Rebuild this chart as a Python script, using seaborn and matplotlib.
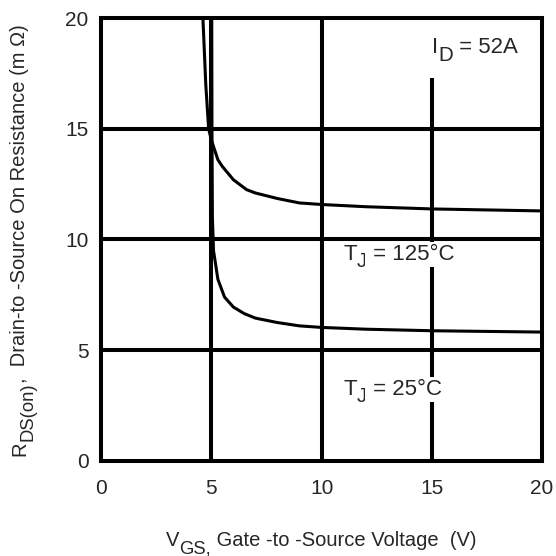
import matplotlib
matplotlib.use("Agg")
import matplotlib.pyplot as plt
import seaborn as sns
import pandas as pd
from matplotlib.transforms import IdentityTransform

# V_GS (V) vs R_DS(on) (mOhm)
vgs_125 = [4.62, 4.75, 4.88, 5.0, 5.1, 5.3, 5.5, 6.0, 6.6, 7.0, 8.0, 9.0, 10.0, 12.0, 15.0, 20.0]
rds_125 = [20.0, 17.0, 15.0, 14.5, 14.2, 13.6, 13.3, 12.7, 12.25, 12.1, 11.85, 11.65, 11.58, 11.48, 11.38, 11.29]
vgs_25 = [5.02, 5.03, 5.05, 5.1, 5.3, 5.6, 6.0, 6.5, 7.0, 8.0, 9.0, 10.0, 12.0, 15.0, 20.0]
rds_25 = [20.0, 15.0, 11.0, 9.5, 8.2, 7.4, 6.95, 6.65, 6.45, 6.25, 6.1, 6.03, 5.95, 5.88, 5.82]

ticks = [0, 5, 10, 15, 20]

df = pd.concat([
    pd.DataFrame({"vgs": vgs_125, "rds": rds_125, "tj": "125"}),
    pd.DataFrame({"vgs": vgs_25, "rds": rds_25, "tj": "25"}),
])

sns.set_style("white")
plt.rcParams["font.family"] = ["Liberation Sans", "DejaVu Sans"]

fig = plt.figure(figsize=(5.56, 5.56), dpi=100)
ax = fig.add_axes([0.1817, 0.1709, 0.7933, 0.7967])
rend = fig.canvas.get_renderer()


# text with same-size subscripts, laid out piece by piece in pixel coords
def rich_text(px, py, parts, size, rotation=0, drop=7, center=False, bbox=None):
    widths = []
    for s, sub in parts:
        t = fig.text(0, 0, s, fontsize=size * (0.92 if sub else 1))
        widths.append(t.get_window_extent(rend).width)
        t.remove()
    pos = -sum(widths) / 2 if center else 0
    for (s, sub), w in zip(parts, widths):
        across = -drop if sub else 0
        if rotation == 90:
            dx, dy = -across, pos
        else:
            dx, dy = pos, across
        fig.text(px + dx, py + dy, s, transform=IdentityTransform(),
                 fontsize=size * (0.92 if sub else 1), ha="left", va="baseline",
                 rotation=rotation, rotation_mode="anchor", bbox=bbox, zorder=5)
        pos += w


# grid lines
lw_grid = 2.9
for v in [5, 10]:
    ax.axvline(v, color="black", lw=lw_grid, zorder=1)
ax.vlines(15, 0, 17.3, color="black", lw=lw_grid, zorder=1)
for v in [5, 10, 15]:
    ax.axhline(v, color="black", lw=lw_grid, zorder=1)

sns.lineplot(data=df, x="vgs", y="rds", units="tj", estimator=None, sort=False,
             color="black", lw=2.2, ax=ax, zorder=2)

ax.set_xlim(0, 20)
ax.set_ylim(0, 20)
ax.set_xticks(ticks)
ax.set_yticks(ticks)
ax.set_xlabel("")
ax.set_ylabel("")
ax.tick_params(axis="x", labelsize=15, length=0, pad=13)
ax.tick_params(axis="y", labelsize=15, length=0, pad=9)
for s in ax.spines.values():
    s.set_linewidth(lw_grid)
    s.set_color("black")
    s.set_zorder(3)

box = dict(facecolor="white", edgecolor="none", pad=1.5)
rich_text(343, 296, [("T", 0), ("J", 1), (" = 125°C", 0)], 16, bbox=box)
rich_text(343, 161, [("T", 0), ("J", 1), (" = 25°C", 0)], 16, bbox=box)
rich_text(432, 503, [("I", 0), ("D", 1), (" = 52A", 0)], 16, drop=8)

rich_text(321, 10, [("V", 0), ("GS,", 1), (" Gate -to -Source Voltage  (V)", 0)], 14.5, center=True)
rich_text(25, 316, [("R", 0), ("DS(on)", 1), (",  Drain-to -Source On Resistance (m \u03a9)", 0)],
          14.5, rotation=90, drop=8, center=True)

fig.savefig("out.png", dpi=100)
